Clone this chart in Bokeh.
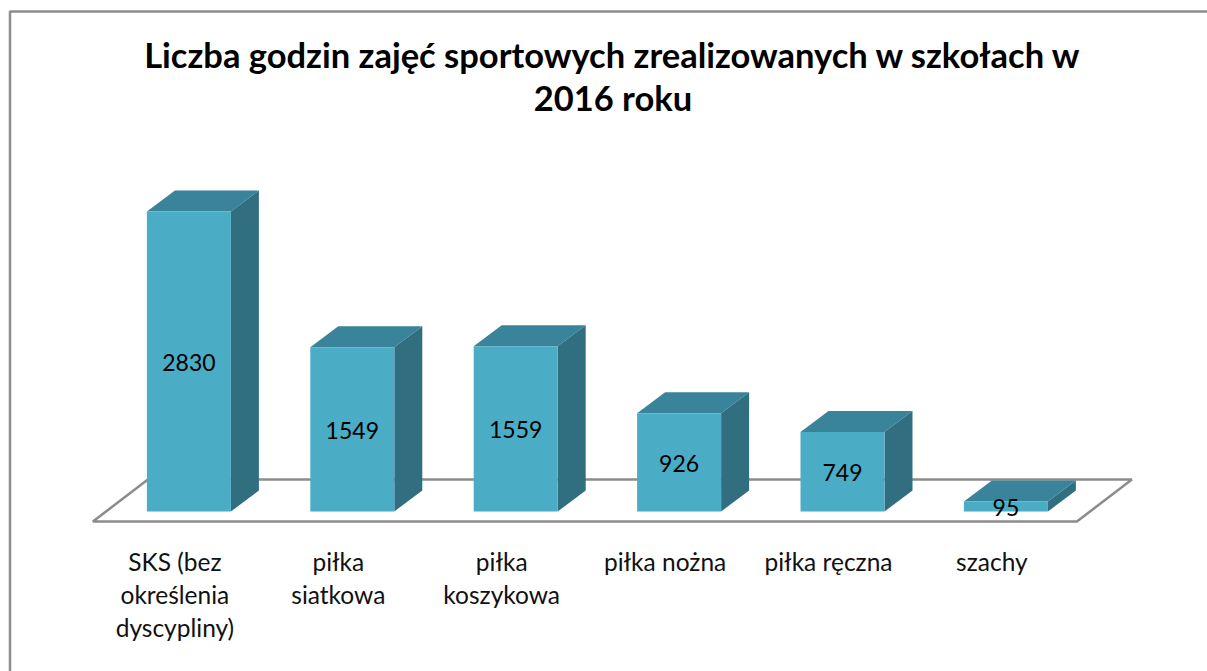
from bokeh.plotting import figure
from bokeh.embed import file_html
from bokeh.resources import INLINE
from bokeh.core.properties import value
from bokeh.models import Range1d

categories = [["SKS (bez", "określenia", "dyscypliny)"], ["piłka", "siatkowa"], ["piłka", "koszykowa"],
              ["piłka nożna"], ["piłka ręczna"], ["szachy"]]
values = [2830, 1549, 1559, 926, 749, 95]
title_lines = ["Liczba godzin zajęć sportowych zrealizowanych w szkołach w", "2016 roku"]

W, H = 1207, 671
PX_PER_X = 163.4
PX_PER_Y = 0.106
X0_PAGE, Y0_PAGE = 188.4, 511
xr = Range1d(-X0_PAGE / PX_PER_X, (W - X0_PAGE) / PX_PER_X)
yr = Range1d(-(H - Y0_PAGE) / PX_PER_Y, Y0_PAGE / PX_PER_Y)
px = lambda n: n / PX_PER_X
py = lambda n: n / PX_PER_Y

p = figure(width=W, height=H, x_range=xr, y_range=yr, output_backend="svg", toolbar_location=None,
           min_border=0, x_axis_type="linear")
p.axis.visible = False
p.grid.visible = False
p.outline_line_color = None
p.background_fill_color = "white"
p.border_fill_color = "white"

# chart frame
fl, fr, ft, fb = xr.start + px(9.5), xr.end + px(5), yr.end - py(11), yr.start - py(5)
p.line([fl, fl, fr], [fb, ft, ft], line_color="#8c8c8c", line_width=2.5)

# floor
floor_l, floor_r = px(93 - 189), px(1077 - 189)
fy0, fy1 = -py(10), py(32)
fd = px(55)
p.patch([floor_l, floor_r, floor_r + fd, floor_l + fd], [fy0, fy0, fy1, fy1],
        fill_color="white", line_color="#8c8c8c", line_width=2.5)

# bars
hw = px(42)
dx, dy = px(28), py(21)
for i, v in enumerate(values):
    l, r = i - hw, i + hw
    p.patch([l, r, r + dx, l + dx], [v, v, v + dy, v + dy], fill_color="#39849a", line_color=None)
    p.patch([r, r + dx, r + dx, r], [0, dy, v + dy, v], fill_color="#316e80", line_color=None)
    p.patch([l, r, r, l], [0, 0, v, v], fill_color="#4bacc6", line_color=None)
    p.text([i], [v / 2], text=[str(v)], text_align="center", text_baseline="middle",
           text_font=value("Lato"), text_font_size="23px", text_color="black", y_offset=1)

# category labels
for i, lines in enumerate(categories):
    for j, t in enumerate(lines):
        p.text([i - px(14)], [0], text=[t], text_align="center", text_baseline="middle",
               text_font=value("Lato"), text_font_size="24.5px", text_color="#111111",
               y_offset=50 + j * 33)

# title
for j, t in enumerate(title_lines):
    p.text([px(613 - 189)], [yr.end], text=[t], text_align="center", text_baseline="middle",
           text_font=value("Lato"), text_font_size="34.5px", text_font_style="bold", text_color="black",
           y_offset=54 + j * 43)

open("out.html", "w").write(file_html(p, INLINE))
